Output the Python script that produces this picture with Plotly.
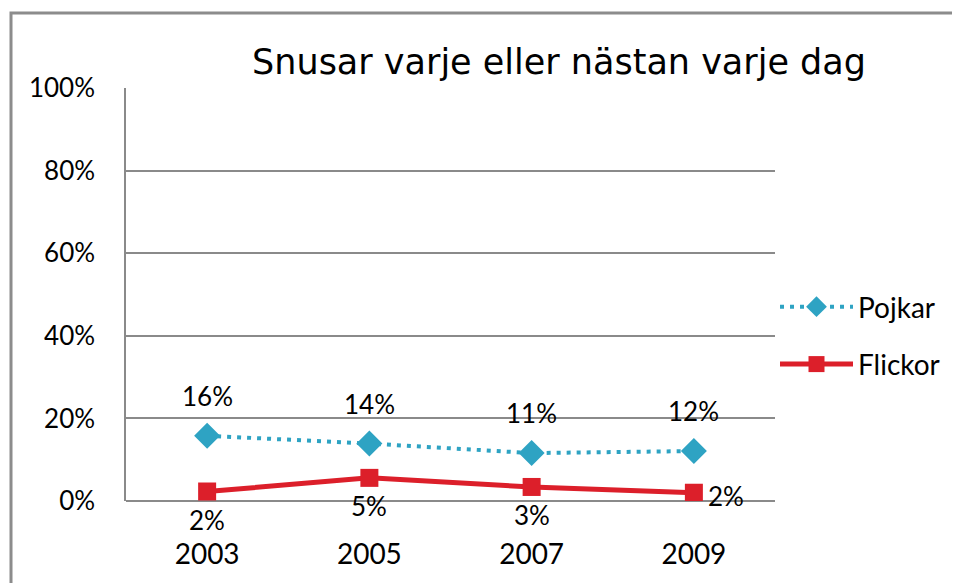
import plotly.graph_objects as go

years = ["2003", "2005", "2007", "2009"]
pojkar = [15.8, 13.9, 11.6, 12.1]
flickor = [2.3, 5.6, 3.4, 2.0]
pojkar_labels = ["16%", "14%", "11%", "12%"]
flickor_labels = ["2%", "5%", "3%", "2%"]

FONT = "Lato"
BLUE = "#2ea3c3"
RED = "#dc1f2a"
GRID = "#8a8a8a"

# the page has an 8px body margin, so all pixel numbers below are shifted by it
L, R, T, B = 118, 767, 80, 493

fig = go.Figure()

fig.add_trace(go.Scatter(
    x=years, y=pojkar, name="Pojkar", legendgroup="p",
    mode="lines+markers",
    line=dict(color=BLUE, width=4, dash="4px,6px"),
    marker=dict(symbol="diamond", size=20, color=BLUE),
))
fig.add_trace(go.Scatter(
    x=years, y=flickor, name="Flickor", legendgroup="f",
    mode="lines+markers",
    line=dict(color=RED, width=5),
    marker=dict(symbol="square", size=18, color=RED),
))

# data labels: boys above, girls below (last one to the right)
lab_font = dict(size=26, color="black", family=FONT)
for i in range(len(years)):
    fig.add_annotation(x=i, y=pojkar[i], text=pojkar_labels[i], showarrow=False,
                       yshift=40, font=lab_font)
    if i < len(years) - 1:
        fig.add_annotation(x=i, y=flickor[i], text=flickor_labels[i], showarrow=False,
                           yshift=-28, font=lab_font)
    else:
        fig.add_annotation(x=i, y=flickor[i], text=flickor_labels[i], showarrow=False,
                           xanchor="left", xshift=12, yshift=-3, font=lab_font)

# outer chart border (runs past the visible picture on the right and bottom)
pw, ph = R - L, B - T
fig.add_shape(type="rect", xref="paper", yref="paper",
              x0=(3 - L) / pw, x1=(975 - L) / pw,
              y0=(B - 600) / ph, y1=(B - 5) / ph,
              line=dict(color="#8c8c8c", width=3))

fig.update_layout(
    width=960, height=583,
    margin=dict(l=L, r=960 - R, t=T, b=583 - B),
    paper_bgcolor="white", plot_bgcolor="white",
    font=dict(family=FONT, size=26, color="black"),
    title=dict(text="Snusar varje eller nästan varje dag",
               x=551 / 960, xanchor="center", y=1 - 54 / 583, yanchor="middle",
               font=dict(size=35, family="DejaVu Sans", color="black")),
    showlegend=True,
    legend=dict(x=1.0, xanchor="left", y=(B - 274) / ph, yanchor="top",
                font=dict(size=28, family=FONT), tracegroupgap=18,
                bgcolor="rgba(0,0,0,0)", itemwidth=73),
)
fig.update_xaxes(type="category", range=[-0.5, 3.5], showgrid=False,
                 showline=False, ticks="", ticklabelstandoff=34,
                 tickfont=dict(size=28))
fig.update_yaxes(range=[0, 100], dtick=20, ticksuffix="%", showgrid=True,
                 gridcolor=GRID, gridwidth=1.5, showline=True, linecolor=GRID,
                 linewidth=1.5, zeroline=True, zerolinecolor=GRID, zerolinewidth=1.5,
                 ticks="", ticklabelstandoff=24, tickfont=dict(size=26))

fig.write_html("out.html")
